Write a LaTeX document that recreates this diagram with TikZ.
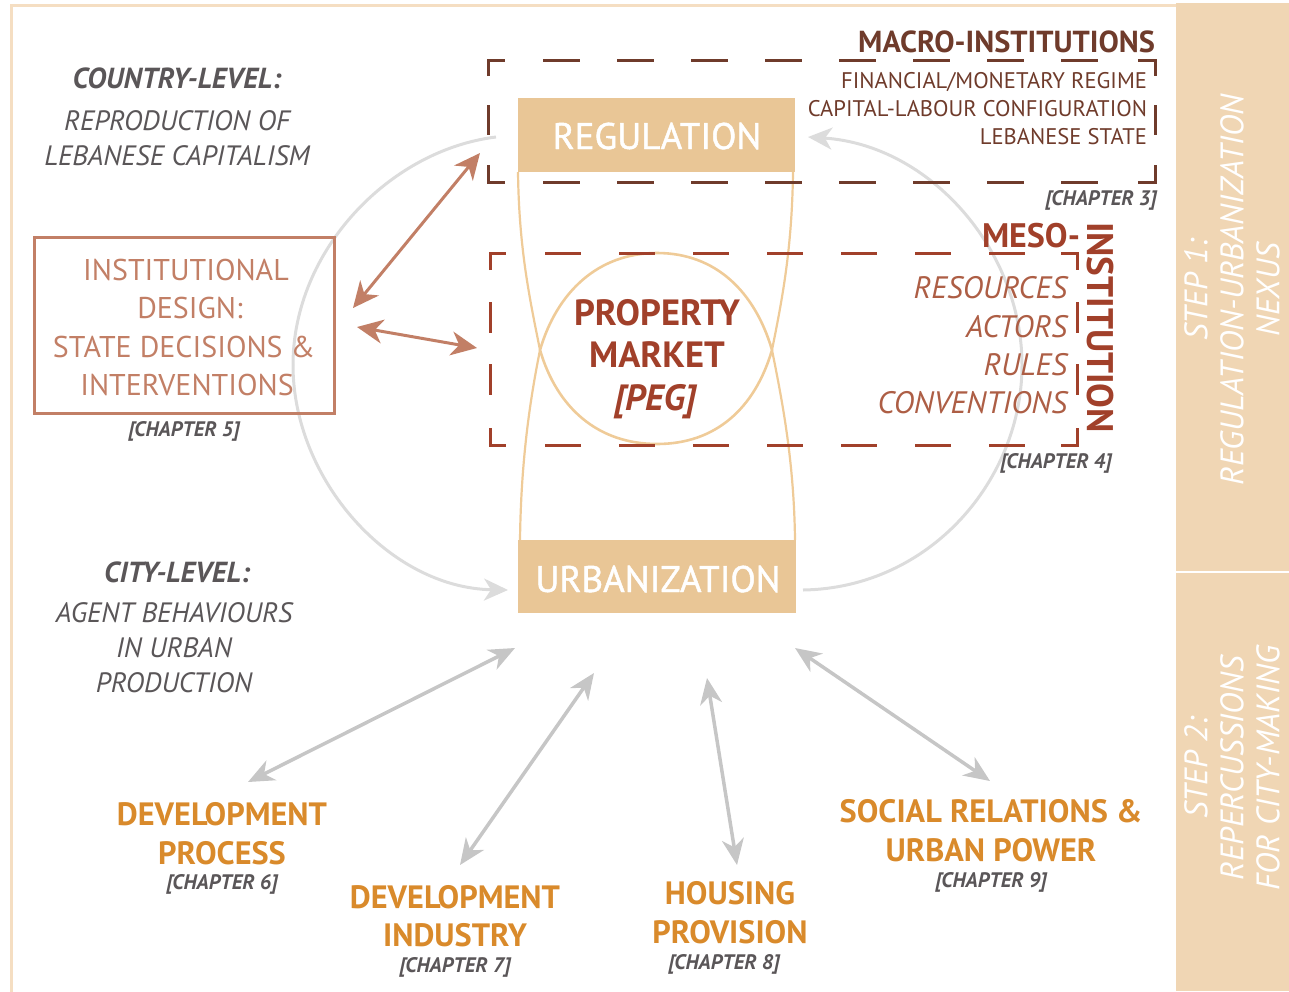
\documentclass[tikz,border=0pt]{standalone}
\usepackage{fontspec}
\setmainfont{PT Sans}
\newfontfamily\semibfont{PT Sans}[FakeBold=1.2]
\usetikzlibrary{arrows.meta}
\definecolor{framec}{HTML}{F5DEC2}
\definecolor{sidec}{HTML}{F0D6B4}
\definecolor{boxc}{HTML}{E9C696}
\definecolor{hourc}{HTML}{EFCB98}
\definecolor{macroc}{HTML}{6F3B2B}
\definecolor{mesoc}{HTML}{A1402A}
\definecolor{mesolite}{HTML}{AD5E45}
\definecolor{salmonc}{HTML}{C27F66}
\definecolor{grayt}{HTML}{5A5658}
\definecolor{arcgray}{HTML}{DCDCDC}
\definecolor{arrgray}{HTML}{C6C6C6}
\definecolor{orngc}{HTML}{D98A2B}
\tikzset{
  txt/.style={inner sep=0pt, outer sep=0pt},
  boxlabel/.style={txt, white, font=\fontsize{37}{39}\semibfont},
  macrotxt/.style={txt, macroc, anchor=base east, font=\fontsize{22.6}{24}\selectfont},
  mesotxt/.style={txt, mesolite, anchor=base east, font=\fontsize{31}{33}\selectfont\itshape},
  chap/.style={txt, grayt, anchor=base, font=\fontsize{21}{23}\selectfont\bfseries\itshape},
  lvlhead/.style={txt, grayt, anchor=base, font=\fontsize{29}{31}\selectfont\bfseries\itshape},
  lvltxt/.style={txt, grayt, anchor=base, font=\fontsize{28}{30}\selectfont\itshape},
  outcome/.style={txt, orngc, anchor=base, font=\fontsize{32.3}{34}\selectfont\bfseries},
  peg/.style={txt, mesoc, anchor=base, font=\fontsize{36.5}{38}\selectfont\bfseries},
  insttxt/.style={txt, salmonc, anchor=base, font=\fontsize{30}{32}\selectfont},
  sidetxt/.style={txt, white, rotate=90, align=center, font=\fontsize{32.5}{36}\selectfont\itshape},
  macroline/.style={macroc, line width=3pt},
  mesoline/.style={mesoc, line width=3pt},
  salarrow/.style={salmonc, line width=3pt, {Stealth[length=26pt,width=24pt,inset=8pt]}-{Stealth[length=26pt,width=24pt,inset=8pt]}},
  grayarrow/.style={arrgray, line width=3.5pt, {Stealth[length=26pt,width=22pt,inset=8pt]}-{Stealth[length=26pt,width=22pt,inset=8pt]}},
  arcline/.style={arcgray, line width=3pt},
  arctip/.style={arcgray, line width=3pt, -{Stealth[length=24pt,width=22pt,inset=7pt]}},
  hourline/.style={hourc, line width=2.2pt},
}
\begin{document}
\begin{tikzpicture}[x=1pt,y=-1pt]
\useasboundingbox (0,0) rectangle (1289,991);
% frame and sidebar
\draw[framec, line width=3pt] (11,1000) -- (11,5) -- (1180,5);
\fill[sidec] (1176,3) rectangle (1289,991);
\draw[white, line width=2.5pt] (1176,572) -- (1289,572);
\node[sidetxt] (step1) at (1232,290) {STEP 1:\\REGULATION-URBANIZATION\\NEXUS};
\node[sidetxt] (step2) at (1232,768) {STEP 2:\\REPERCUSSIONS\\FOR CITY-MAKING};

% named anchor coordinates
\coordinate (arcL1) at (496,137);
\coordinate (arcLm) at (293,365);
\coordinate (arcL2) at (508,590);
\coordinate (arcR1) at (803,590);
\coordinate (arcRm) at (1022,365);
\coordinate (arcR2) at (808,137);

% big gray arcs
\draw[arcline] (arcL1) .. controls (390,150) and (293,250) .. (arcLm);
\draw[arctip] (arcLm) .. controls (293,480) and (390,588) .. (arcL2);
\draw[arcline] (arcR1) .. controls (930,588) and (1022,480) .. (arcRm);
\draw[arctip] (arcRm) .. controls (1022,250) and (930,145) .. (arcR2);

% hourglass and property market oval
\coordinate (hTL) at (518,172);
\coordinate (hML) at (540,350);
\coordinate (hBL) at (520,540);
\coordinate (hTR) at (793,172);
\coordinate (hMR) at (772,350);
\coordinate (hBR) at (795,540);
\draw[hourline] (hTL) .. controls (519,250) and (530,300) .. (hML) .. controls (530,400) and (521,460) .. (hBL);
\draw[hourline] (hTR) .. controls (792,250) and (782,300) .. (hMR) .. controls (782,400) and (794,460) .. (hBR);
\coordinate (ovT) at (657,253);
\coordinate (ovB) at (657,444);
\draw[hourc, line width=2.6pt] (hML) .. controls (557,292) and (598,253) .. (ovT)
  .. controls (716,253) and (755,292) .. (hMR)
  .. controls (755,408) and (716,444) .. (ovB)
  .. controls (598,444) and (557,408) .. (hML) -- cycle;

% regulation / urbanization boxes
\node[fill=boxc, minimum width=277pt, minimum height=74pt, inner sep=0pt] (reg) at (656.5,135) {};
\node[boxlabel, anchor=base] (regt) at (657,149) {REGULATION};
\node[fill=boxc, minimum width=278pt, minimum height=73pt, inner sep=0pt] (urb) at (657,576.5) {};
\node[boxlabel, anchor=base] (urbt) at (658,592) {URBANIZATION};

% macro dashed box
\draw[macroline] (488,76) -- (488,60) -- (505,60);
\draw[macroline] (1138,60) -- (1155,60) -- (1155,76);
\draw[macroline] (488,165) -- (488,182) -- (505,182);
\draw[macroline] (1138,182) -- (1155,182) -- (1155,165);
\draw[macroline] (488,105) -- (488,135);
\draw[macroline] (1155,105) -- (1155,135);
\foreach \xx in {543,617,...,1061} {
  \draw[macroline] (\xx,60) -- ++(37,0);
  \draw[macroline] (\xx,182) -- ++(37,0);
}
% meso dashed box
\draw[mesoline] (490,270) -- (490,253) -- (506,253);
\draw[mesoline] (1061,253) -- (1077,253) -- (1077,270);
\draw[mesoline] (490,428) -- (490,445) -- (506,445);
\draw[mesoline] (1061,445) -- (1077,445) -- (1077,428);
\foreach \yy in {302,364} {
  \draw[mesoline] (490,\yy) -- ++(0,31);
  \draw[mesoline] (1077,\yy) -- ++(0,31);
}
\foreach \xx in {545,619,...,989} {
  \draw[mesoline] (\xx,253) -- ++(36,0);
  \draw[mesoline] (\xx,445) -- ++(36,0);
}

% macro texts
\node[txt, macroc, anchor=base east, font=\fontsize{30.4}{32}\selectfont\bfseries] (macroh) at (1155,52) {MACRO-INSTITUTIONS};
\node[macrotxt] (m1) at (1147,88) {FINANCIAL/MONETARY REGIME};
\node[macrotxt] (m2) at (1147,116) {CAPITAL-LABOUR CONFIGURATION};
\node[macrotxt] (m3) at (1147,144) {LEBANESE STATE};
\node[chap, anchor=base east] (ch3) at (1157,205) {[CHAPTER 3]};

% meso texts
\node[txt, mesoc, anchor=base east, font=\fontsize{34}{36}\selectfont\bfseries] (mesoh) at (1080,247) {MESO-};
\node[txt, mesoc, rotate=-90, anchor=base west, font=\fontsize{37}{39}\selectfont\bfseries] (insth) at (1087,222) {INSTITUTION};
\node[mesotxt] (r1) at (1067,298) {RESOURCES};
\node[mesotxt] (r2) at (1067,337) {ACTORS};
\node[mesotxt] (r3) at (1067,375) {RULES};
\node[mesotxt] (r4) at (1067,413) {CONVENTIONS};
\node[chap, anchor=base east] (ch4) at (1112,468) {[CHAPTER 4]};

% property market
\node[peg] (pm1) at (657,325) {PROPERTY};
\node[peg] (pm2) at (657,367) {MARKET};
\node[peg, font=\fontsize{36.5}{38}\selectfont\bfseries\itshape] (pm3) at (655,410) {[PEG]};

% country level
\node[lvlhead] (cl) at (177,88) {COUNTRY-LEVEL:};
\node[lvltxt] (cl1) at (177,130) {REPRODUCTION OF};
\node[lvltxt] (cl2) at (177,165) {LEBANESE CAPITALISM};

% institutional design
\node[draw=salmonc, line width=3pt, minimum width=300pt, minimum height=176pt, inner sep=0pt] (inst) at (184,325) {};
\node[insttxt] (i1) at (186,280) {INSTITUTIONAL};
\node[insttxt] (i2) at (190,318) {DESIGN:};
\node[insttxt] (i3) at (184,357) {STATE DECISIONS \&};
\node[insttxt] (i4) at (187,395) {INTERVENTIONS};
\node[chap] (ch5) at (184,436) {[CHAPTER 5]};

% salmon arrows
\coordinate (sa1) at (353,308);
\coordinate (sa2) at (480,153);
\coordinate (sb1) at (357,327);
\coordinate (sb2) at (477,348);
\draw[salarrow] (sa1) -- (sa2);
\draw[salarrow] (sb1) -- (sb2);

% city level
\node[lvlhead] (cy) at (177,582) {CITY-LEVEL:};
\node[lvltxt] (cy1) at (174,622) {AGENT BEHAVIOURS};
\node[lvltxt] (cy2) at (174,657) {IN URBAN};
\node[lvltxt] (cy3) at (174,692) {PRODUCTION};

% outcomes
\node[outcome] (dp1) at (222,825) {DEVELOPMENT};
\node[outcome] (dp2) at (222,864) {PROCESS};
\node[chap] (ch6) at (222,889) {[CHAPTER 6]};
\node[outcome] (di1) at (455,908) {DEVELOPMENT};
\node[outcome] (di2) at (455,946) {INDUSTRY};
\node[chap] (ch7) at (455,972) {[CHAPTER 7]};
\node[outcome] (hp1) at (730,904) {HOUSING};
\node[outcome] (hp2) at (730,943) {PROVISION};
\node[chap] (ch8) at (724,969) {[CHAPTER 8]};
\node[outcome] (sr1) at (991,822) {SOCIAL RELATIONS \&};
\node[outcome] (sr2) at (991,861) {URBAN POWER};
\node[chap] (ch9) at (991,887) {[CHAPTER 9]};

% gray bottom arrows
\coordinate (g1a) at (515,648); \coordinate (g1b) at (248,782);
\coordinate (g2a) at (594,673); \coordinate (g2b) at (460,865);
\coordinate (g3a) at (707,678); \coordinate (g3b) at (737,865);
\coordinate (g4a) at (795,648); \coordinate (g4b) at (990,781);
\draw[grayarrow] (g1a) -- (g1b);
\draw[grayarrow] (g2a) -- (g2b);
\draw[grayarrow] (g3a) -- (g3b);
\draw[grayarrow] (g4a) -- (g4b);
\end{tikzpicture}
\end{document}
